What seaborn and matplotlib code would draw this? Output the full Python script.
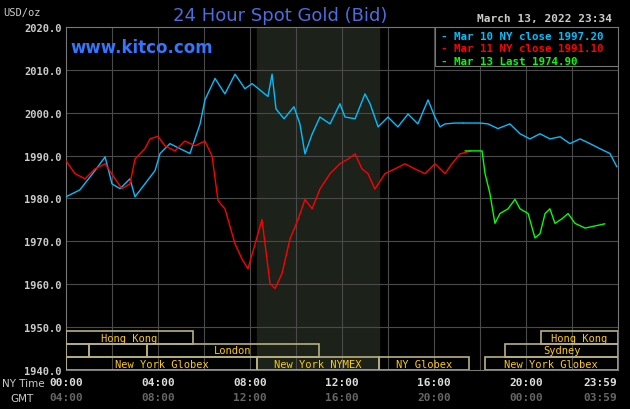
import matplotlib
matplotlib.use("Agg")
import matplotlib.pyplot as plt
import seaborn as sns
import pandas as pd
from matplotlib.patches import Rectangle

# hours (NY time) and prices
blue_h = [0.0,0.6,1.26,1.7,2.0,2.35,2.78,3.0,3.43,3.87,4.09,4.52,4.96,5.39,5.83,6.04,6.48,6.91,7.35,7.78,8.09,8.78,8.96,9.13,9.48,9.91,10.17,10.39,10.7,11.04,11.48,11.91,12.13,12.57,13.0,13.22,13.57,14.0,14.43,14.87,15.3,15.74,16.04,16.26,16.48,16.91,17.26,18.0,18.35,18.78,19.3,19.74,20.17,20.61,21.04,21.48,21.91,22.35,22.78,23.22,23.65,23.95]
blue_v = [1980.4,1982.0,1986.5,1989.7,1983.4,1982.3,1984.6,1980.4,1983.4,1986.5,1990.5,1992.8,1991.6,1990.5,1997.4,2003.0,2008.0,2004.4,2009.0,2005.6,2006.8,2003.8,2009.0,2000.9,1998.6,2001.4,1997.4,1990.4,1995.0,1999.0,1997.4,2002.1,1999.0,1998.6,2004.4,2002.1,1996.7,1999.0,1996.7,1999.7,1997.4,2003.0,1999.0,1996.7,1997.4,1997.6,1997.6,1997.6,1997.4,1996.3,1997.4,1995.1,1993.9,1995.1,1993.9,1994.4,1992.8,1993.9,1992.8,1991.6,1990.5,1987.4]
red_h = [0.0,0.39,0.83,1.26,1.7,2.13,2.43,2.78,3.0,3.43,3.65,4.0,4.3,4.74,5.17,5.61,6.04,6.35,6.61,6.91,7.35,7.65,7.91,8.22,8.52,8.87,9.09,9.39,9.74,10.09,10.39,10.7,11.04,11.48,11.91,12.26,12.57,12.87,13.13,13.43,13.87,14.3,14.74,15.17,15.61,16.04,16.48,16.78,17.13,17.61]
red_v = [1988.8,1985.8,1984.6,1986.9,1988.1,1984.6,1982.3,1983.4,1989.2,1991.6,1993.9,1994.5,1992.3,1991.1,1993.4,1992.3,1993.4,1989.9,1979.5,1977.6,1969.4,1965.9,1963.6,1969.4,1975.1,1960.2,1959.0,1962.5,1970.6,1975.1,1979.8,1977.6,1982.2,1985.8,1988.1,1989.2,1990.4,1986.9,1985.8,1982.2,1985.8,1986.9,1988.1,1986.9,1985.8,1988.1,1985.8,1988.1,1990.4,1991.1]
green_h = [17.35,18.09,18.22,18.43,18.65,18.87,19.22,19.52,19.74,20.09,20.39,20.61,20.83,21.04,21.26,21.57,21.83,22.13,22.57,23.0,23.43]
green_v = [1991.1,1991.1,1985.8,1981.2,1974.2,1976.5,1977.6,1979.8,1977.6,1976.5,1970.8,1971.8,1976.5,1977.6,1974.2,1975.3,1976.5,1974.2,1973.1,1973.6,1974.1]

yticks = [1940,1950,1960,1970,1980,1990,2000,2010,2020]
ny_labels = ["00:00","04:00","08:00","12:00","16:00","20:00","23:59"]
gmt_labels = ["04:00","08:00","12:00","16:00","20:00","00:00","03:59"]
label_hours = [0,4,8,12,16,20,23.98]
legend_texts = ["Mar 10 NY close 1997.20","Mar 11 NY close 1991.10","Mar 13 Last 1974.90"]
colors = ["#00bfff","#ff0000","#00ff00"]
# session bands: (label, start, end, row)
sessions = [("Hong Kong",0,5.5,0),("Hong Kong",20.65,24,0),
            ("",0,1.0,1),("",1.0,3.5,1),("London",3.5,11.0,1),("Sydney",19.1,24,1),
            ("New York Globex",0,8.3,2),("New York NYMEX",8.3,13.6,2),("NY Globex",13.6,17.5,2),("New York Globex",18.2,24,2)]
rows = [(1946.1,1949.0),(1943.0,1946.1),(1940.0,1943.0)]

sns.set_style("dark")
mono = "DejaVu Sans Mono"
fig = plt.figure(figsize=(6.3,4.1), dpi=100, facecolor="black")
ax = fig.add_axes([66/630, 39/410, 552/630, 343/410], facecolor="black")

ax.axvspan(8.3, 13.6, color="#1c2219", zorder=0)
for h in range(2,24,2):
    ax.axvline(h, color="#4a4a4a", lw=0.8, zorder=1)
for v in yticks[1:-1]:
    ax.axhline(v, color="#4a4a4a", lw=0.8, zorder=1)

for h, v, c in [(blue_h[:47], blue_v[:47], colors[0]), (blue_h[46:], blue_v[46:], colors[0]), (red_h, red_v, colors[1]), (green_h, green_v, colors[2])]:
    sns.lineplot(x=h, y=v, color=c, lw=1.0, ax=ax, zorder=3, estimator=None, sort=False)

for lab, s, e, r in sessions:
    lo, hi = rows[r]
    ax.add_patch(Rectangle((s, lo), e-s, hi-lo, fill=False, ec="#b8b080", lw=1.2, zorder=4))
    if lab:
        ax.text((s+e)/2, (lo+hi)/2, lab, color="#ffcc00", fontsize=7.5, family=mono, ha="center", va="center", zorder=5)

ax.set_xlim(0, 24)
ax.set_ylim(1940, 2020)
ax.set_xticks([])
ax.set_yticks(yticks)
ax.set_yticklabels([f"{v:.1f}" for v in yticks], color="#cccccc", fontsize=7.5, family=mono, fontweight="bold")
ax.tick_params(axis="y", length=0, pad=3)
for s in ax.spines.values():
    s.set_visible(True); s.set_color("#777777"); s.set_linewidth(0.8)

for i, (h, ny, g) in enumerate(zip(label_hours, ny_labels, gmt_labels)):
    ha = "right" if i == len(label_hours) - 1 else "center"
    ax.text(h, -0.035, ny, transform=ax.get_xaxis_transform(), color="#dddddd", fontsize=8, family=mono, fontweight="bold", ha=ha, va="center")
    ax.text(h, -0.08, g, transform=ax.get_xaxis_transform(), color="#666666", fontsize=8, family=mono, fontweight="bold", ha=ha, va="center")
fig.text(2/630, 1-384/410, "NY Time", color="#cccccc", fontsize=7.5, ha="left", va="center")
fig.text(10/630, 1-399/410, "GMT", color="#cccccc", fontsize=7.5, ha="left", va="center")

fig.text(3/630, 1-13/410, "USD/oz", color="#cccccc", fontsize=7.5, family=mono, ha="left", va="center")
fig.text(280/630, 1-16/410, "24 Hour Spot Gold (Bid)", color="#4a6ee0", fontsize=13, ha="center", va="center")
fig.text(612/630, 1-19/410, "March 13, 2022 23:34", color="#cccccc", fontsize=8, family=mono, fontweight="bold", ha="right", va="center")
fig.text(70/630, 1-48/410, "www.kitco.com", color="#3377ff", fontsize=12, fontweight="bold", ha="left", va="center")

ax.add_patch(Rectangle((0.669, 0.885), 0.331, 0.115, transform=ax.transAxes, fc="black", ec="#777777", lw=0.8, zorder=6))
for i, (t, c) in enumerate(zip(legend_texts, colors)):
    ax.text(0.68, 0.975 - i*0.037, "- " + t, transform=ax.transAxes, color=c, fontsize=7.8, family=mono, fontweight="bold", ha="left", va="center", zorder=7)

fig.savefig("out.png", dpi=100, facecolor="black")
